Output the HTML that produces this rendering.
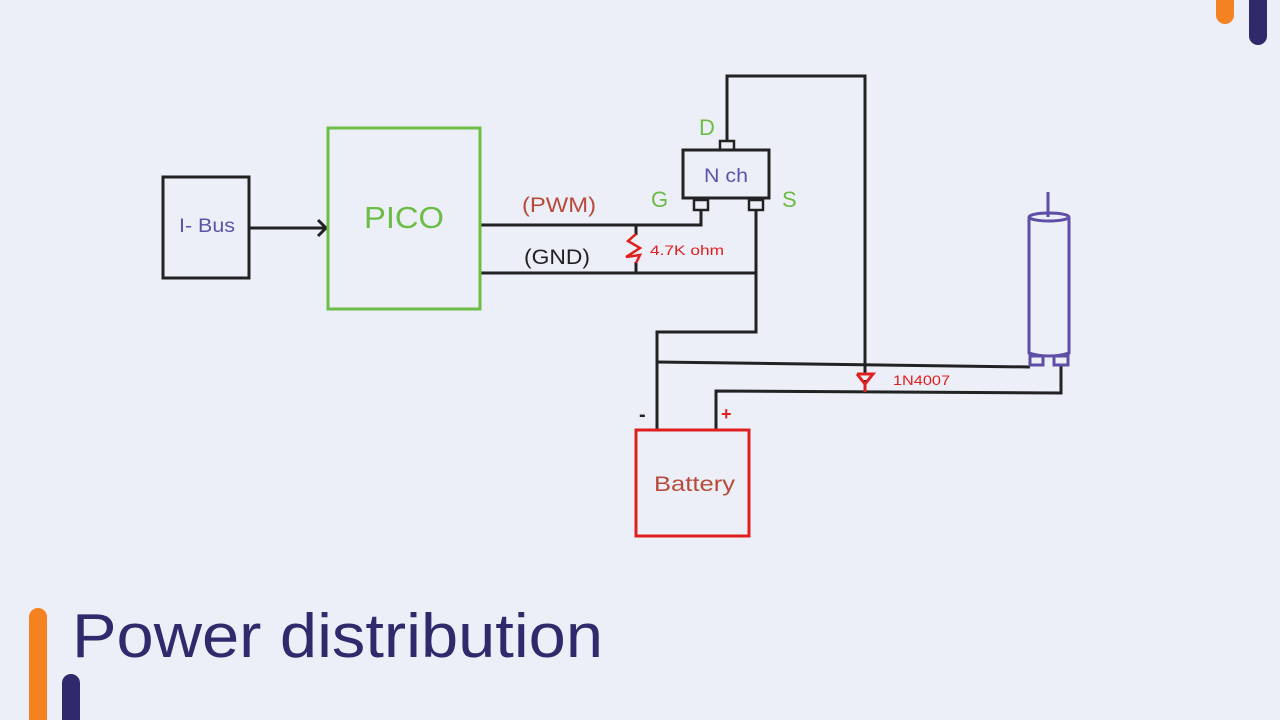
<!DOCTYPE html>
<html><head><meta charset="utf-8"><style>
html,body{margin:0;padding:0;background:#eceff8;}
svg{display:block;}
text{font-family:"Liberation Sans",sans-serif;}
</style></head><body>
<svg width="1280" height="720" viewBox="0 0 1280 720" xmlns="http://www.w3.org/2000/svg">
<rect width="1280" height="720" fill="#eceff8"/>
<rect x="1216" y="-20" width="18" height="44" rx="9" fill="#f58220"/>
<rect x="1249" y="-20" width="18" height="65" rx="9" fill="#2e2a6b"/>
<rect x="29" y="608" width="18" height="130" rx="9" fill="#f58220"/>
<rect x="62" y="674" width="18" height="70" rx="9" fill="#2e2a6b"/>
<text x="72" y="657" font-size="62" fill="#2e2a6b" textLength="531" lengthAdjust="spacingAndGlyphs">Power distribution</text>

<g fill="none" stroke="#222" stroke-width="3">
<rect x="163" y="177" width="86" height="101"/>
<line x1="249" y1="228" x2="326" y2="228"/>
<polyline points="318,220 326,228 318,236"/>
<polyline points="481,225 701,225 701,210"/>
<line x1="481" y1="273" x2="756" y2="273"/>
<polyline points="756,210 756,332 657,332 657,430"/>
<polyline points="727,141 727,76 865,76 865,375"/>
<line x1="865" y1="380" x2="865" y2="392"/>
<polyline points="657,362 1030,367"/>
<polyline points="716,430 716,391 1061,393 1061,365"/>
<line x1="636" y1="225" x2="636" y2="235"/>
<line x1="636" y1="262" x2="636" y2="273"/>
<rect x="683" y="150" width="86" height="48"/>
<rect x="720" y="141" width="14" height="9" stroke-width="2.5"/>
<rect x="694" y="200" width="14" height="10" stroke-width="2.5"/>
<rect x="749" y="200" width="14" height="10" stroke-width="2.5"/>
</g>
<polyline points="636,234 628,241 640,248 626,257 640,255 636,263" fill="none" stroke="#e02020" stroke-width="2.5"/>
<text x="650" y="255" font-size="14" fill="#e02020" textLength="74" lengthAdjust="spacingAndGlyphs">4.7K ohm</text>
<polyline points="857,374 873,374 865,384 857,374" fill="none" stroke="#e02020" stroke-width="3"/>
<line x1="865" y1="384" x2="865" y2="392" stroke="#e02020" stroke-width="3"/>
<text x="893" y="385" font-size="14" fill="#e02020" textLength="57" lengthAdjust="spacingAndGlyphs">1N4007</text>
<rect x="328" y="128" width="152" height="181" fill="none" stroke="#6bbd45" stroke-width="3"/>
<text x="364" y="228" font-size="31" fill="#6bbd45" textLength="80" lengthAdjust="spacingAndGlyphs">PICO</text>
<text x="179" y="232" font-size="19" fill="#5a55a8" textLength="56" lengthAdjust="spacingAndGlyphs">I- Bus</text>
<text x="522" y="212" font-size="21" fill="#b84a3a" textLength="74" lengthAdjust="spacingAndGlyphs">(PWM)</text>
<text x="524" y="264" font-size="21" fill="#222" textLength="66" lengthAdjust="spacingAndGlyphs">(GND)</text>
<text x="704" y="182" font-size="19" fill="#5a55a8" textLength="44" lengthAdjust="spacingAndGlyphs">N ch</text>
<text x="699" y="135" font-size="22" fill="#6bbd45">D</text>
<text x="651" y="207" font-size="22" fill="#6bbd45">G</text>
<text x="782" y="207" font-size="22" fill="#6bbd45">S</text>
<rect x="636" y="430" width="113" height="106" fill="none" stroke="#e02020" stroke-width="3"/>
<text x="654" y="491" font-size="21" fill="#b84a3a" textLength="81" lengthAdjust="spacingAndGlyphs">Battery</text>
<text x="639" y="421" font-size="20" fill="#222" font-weight="bold">-</text>
<text x="721" y="420" font-size="18" fill="#e02020" font-weight="bold">+</text>
<g fill="none" stroke="#5e4ea6" stroke-width="3">
<line x1="1048" y1="192" x2="1048" y2="217"/>
<ellipse cx="1049" cy="217" rx="20" ry="4"/>
<path d="M1029,217 V353 Q1049,359 1069,353 V217"/>
<rect x="1030" y="356" width="13" height="9"/>
<rect x="1054" y="356" width="14" height="9"/>
</g>
</svg>
</body></html>
